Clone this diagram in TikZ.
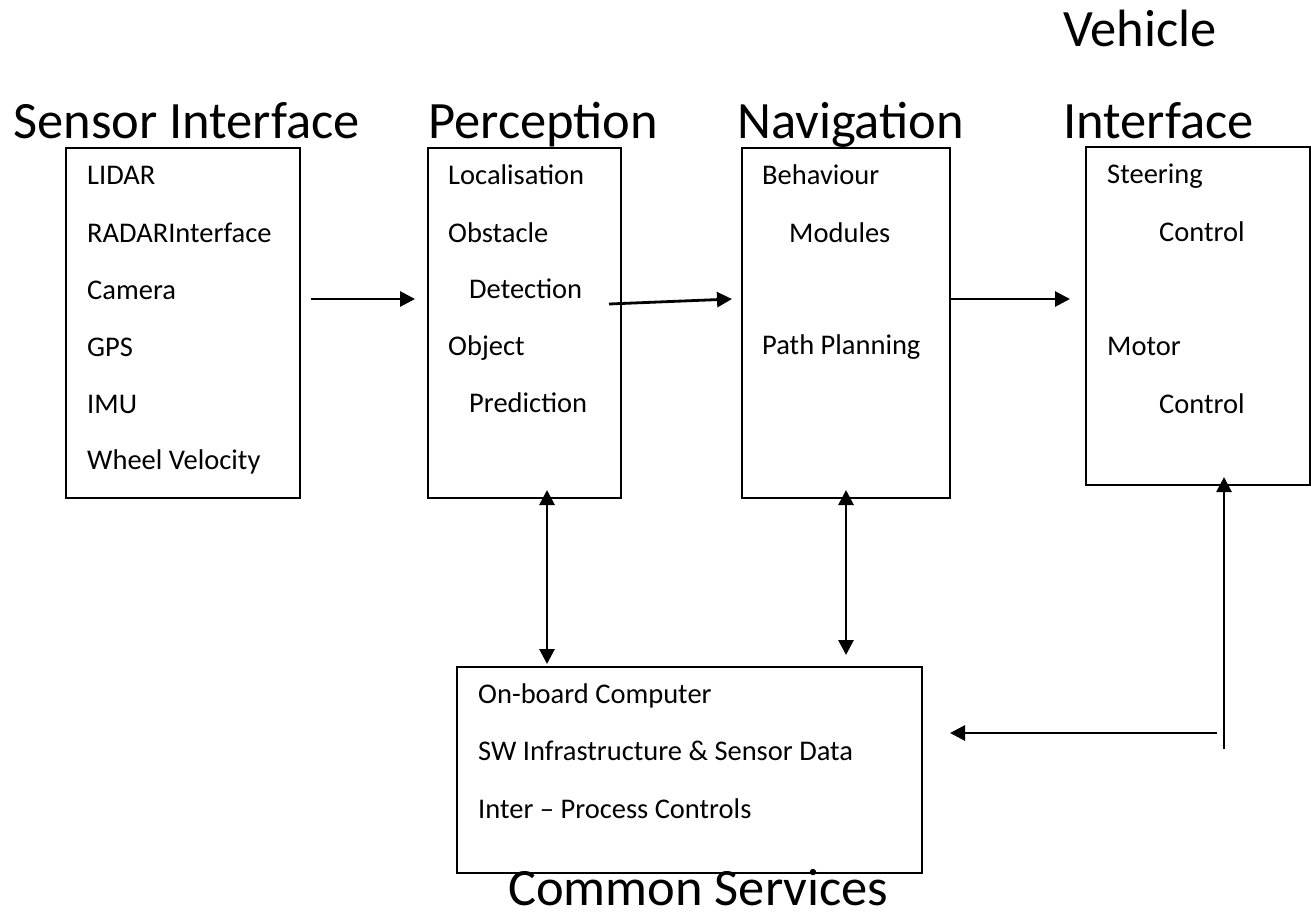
\documentclass[tikz,border=0pt]{standalone}
\usepackage{fontspec}
\setmainfont{Carlito}
\usetikzlibrary{arrows.meta}
\begin{document}
\begin{tikzpicture}[x=1pt,y=-1pt,
  box/.style={draw, line width=1.6pt, inner sep=0pt, anchor=north west},
  txt/.style={anchor=base west, inner sep=0pt, font=\fontsize{28.5}{34}\selectfont},
  ttl/.style={anchor=base west, inner sep=0pt, font=\fontsize{52.5}{60}\selectfont},
  arr/.style={line width=2.8pt, -{Triangle[length=15pt,width=15pt]}},
  darr/.style={line width=2.8pt, {Triangle[length=15pt,width=15pt]}-{Triangle[length=15pt,width=15pt]}}]
\useasboundingbox (0,0) rectangle (1311,921);
% boxes
\node[box, minimum width=234pt, minimum height=350pt] (sensor) at (65,147) {};
\node[box, minimum width=193pt, minimum height=350pt] (perc) at (427,147) {};
\node[box, minimum width=208pt, minimum height=350pt] (nav) at (741,147) {};
\node[box, minimum width=224pt, minimum height=338pt] (veh) at (1085,146) {};
\node[box, minimum width=465pt, minimum height=206pt] (com) at (456,666) {};
% titles
\node[ttl] (tsensor) at (13,138) {Sensor Interface};
\node[ttl] (tperc) at (428,138) {Perception};
\node[ttl] (tnav) at (737,138) {Navigation};
\node[ttl] (tveh1) at (1063,46) {Vehicle};
\node[ttl] (tveh2) at (1063,138) {Interface};
\node[ttl] (tcom) at (508,905) {Common Services};
% sensor list
\node[txt] (s1) at (87,184) {LIDAR};
\node[txt] (s2) at (87,242) {RADARInterface};
\node[txt] (s3) at (87,299) {Camera};
\node[txt] (s4) at (87,356) {GPS};
\node[txt] (s5) at (87,413) {IMU};
\node[txt] (s6) at (87,469) {Wheel Velocity};
% perception list
\node[txt] (p1) at (448,184) {Localisation};
\node[txt] (p2) at (448,242) {Obstacle};
\node[txt] (p3) at (469,298) {Detection};
\node[txt] (p4) at (448,355) {Object};
\node[txt] (p5) at (469,412) {Prediction};
% navigation list
\node[txt] (n1) at (762,184) {Behaviour};
\node[txt] (n2) at (789,242) {Modules};
\node[txt] (n3) at (762,354) {Path Planning};
% vehicle list
\node[txt] (v1) at (1107,183) {Steering};
\node[txt] (v2) at (1159,241) {Control};
\node[txt] (v3) at (1107,355) {Motor};
\node[txt] (v4) at (1159,413) {Control};
% common list
\node[txt] (c1) at (478,703) {On-board Computer};
\node[txt] (c2) at (478,760) {SW Infrastructure \& Sensor Data};
\node[txt] (c3) at (478,818) {Inter – Process Controls};
% connector ends
\coordinate (a1s) at (311,299);
\coordinate (a1e) at (415,299);
\coordinate (a2s) at (609,304);
\coordinate (a2e) at (732,299);
\coordinate (a3s) at (949,299);
\coordinate (a3e) at (1070,299);
\coordinate (a4s) at (547,490);
\coordinate (a4e) at (547,664);
\coordinate (a5s) at (846,490);
\coordinate (a5e) at (846,655);
\coordinate (a6s) at (1224,749);
\coordinate (a6e) at (1224,477);
\coordinate (a7s) at (1217,733);
\coordinate (a7e) at (950,733);
% connectors
\draw[arr] (a1s) -- (a1e);
\draw[arr] (a2s) -- (a2e);
\draw[arr] (a3s) -- (a3e);
\draw[darr] (a4s) -- (a4e);
\draw[darr] (a5s) -- (a5e);
\draw[arr] (a6s) -- (a6e);
\draw[arr] (a7s) -- (a7e);
\end{tikzpicture}
\end{document}
